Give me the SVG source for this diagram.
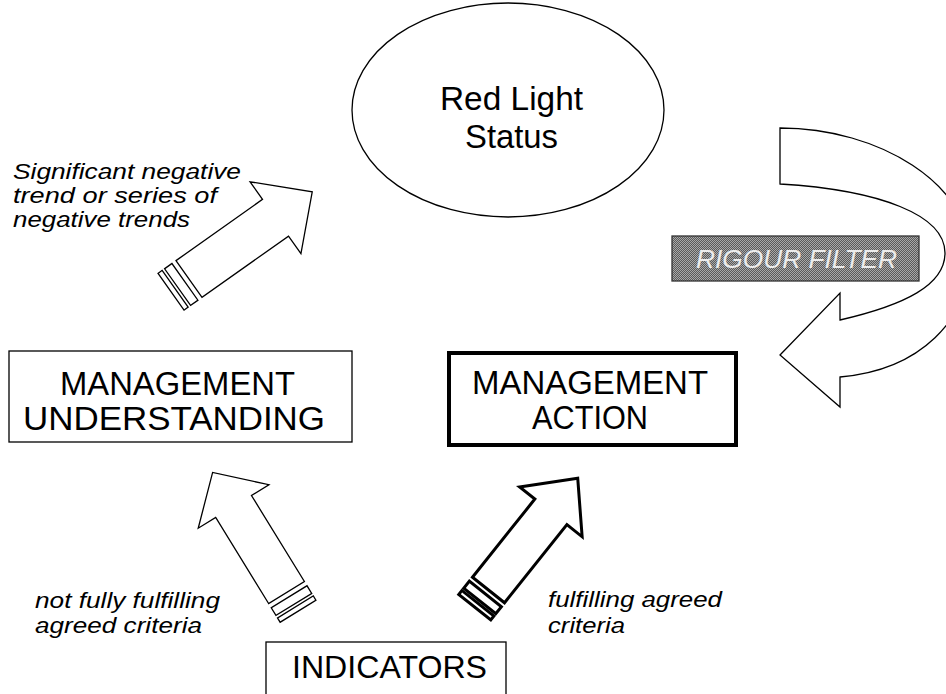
<svg xmlns="http://www.w3.org/2000/svg" width="946" height="694" viewBox="0 0 946 694">
<style>
.shape{fill:#fff;stroke:#000;stroke-width:1.3;stroke-linejoin:miter}
.bold{fill:#fff;stroke:#000;stroke-width:3;stroke-linejoin:miter}
.node{font-family:"Liberation Sans",Arial,sans-serif;fill:#000}
.lbl{font-family:"Liberation Sans",Arial,sans-serif;font-style:italic;font-size:22px;fill:#000}
</style>
<defs>
<pattern id="dots" width="2" height="2" patternUnits="userSpaceOnUse">
<rect width="2" height="2" fill="#5a5a5a"/>
<rect width="1" height="1" fill="#a8a8a8"/>
<rect x="1" y="1" width="1" height="1" fill="#a8a8a8"/>
</pattern>
</defs>
<rect width="946" height="694" fill="#fff"/>

<g id="red-light-status">
<ellipse class="shape" cx="508" cy="110" rx="156" ry="107"/>
<text class="node" font-size="33" x="440" y="110" textLength="143" lengthAdjust="spacingAndGlyphs">Red Light</text>
<text class="node" font-size="33" x="465" y="148" textLength="93" lengthAdjust="spacingAndGlyphs">Status</text>
</g>

<g id="management-understanding">
<rect class="shape" x="9" y="351" width="343" height="91"/>
<text class="node" font-size="33" x="60" y="395" textLength="235" lengthAdjust="spacingAndGlyphs">MANAGEMENT</text>
<text class="node" font-size="33" x="23" y="430" textLength="302" lengthAdjust="spacingAndGlyphs">UNDERSTANDING</text>
</g>

<g id="management-action">
<rect x="449" y="353" width="287" height="92" fill="#fff" stroke="#000" stroke-width="4"/>
<text class="node" font-size="33" x="472" y="394" textLength="236" lengthAdjust="spacingAndGlyphs">MANAGEMENT</text>
<text class="node" font-size="33" x="532" y="429" textLength="116" lengthAdjust="spacingAndGlyphs">ACTION</text>
</g>

<g id="indicators">
<rect class="shape" x="266" y="642" width="240" height="60"/>
<text class="node" font-size="32" x="292" y="678" textLength="195" lengthAdjust="spacingAndGlyphs">INDICATORS</text>
</g>

<g id="rigour-filter">
<rect x="672" y="236" width="247" height="45" fill="url(#dots)" stroke="#333" stroke-width="1.3"/>
<text x="696" y="268" font-family="Liberation Sans,Arial,sans-serif" font-style="italic" font-size="25" fill="#ececec" textLength="201" lengthAdjust="spacingAndGlyphs">RIGOUR FILTER</text>
</g>

<g id="connectors">
<path class="shape" d="M780,128 C880,128 970,185 970,255 C970,320 920,370 840,377 L840,407 L780,355 L840,293 L840,320 C905,305 945,285 945,253 C945,215 880,190 780,184 Z"/>
<g transform="translate(189,279) rotate(-35.3)">
<path class="shape" d="M0,-22.5 L106,-22.5 L106,-44 L151,0 L106,44 L106,22.5 L0,22.5 Z"/>
<rect class="shape" x="-14" y="-22.5" width="9" height="45"/>
<rect class="shape" x="-22" y="-22.5" width="5" height="45"/>
</g>
<g transform="translate(286.5,592.5) rotate(-121.6)">
<path class="shape" d="M0,-21 L101,-21 L101,-41.5 L141,0 L101,41.5 L101,21 L0,21 Z"/>
<rect class="shape" x="-14" y="-21" width="9" height="42"/>
<rect class="shape" x="-22" y="-21" width="5" height="42"/>
</g>
<g transform="translate(488.5,590) rotate(-51.4)">
<path class="bold" d="M0,-20.5 L100,-20.5 L100,-40 L143,0 L100,40 L100,20.5 L0,20.5 Z"/>
<rect class="bold" x="-14" y="-20.5" width="9" height="41"/>
<rect class="bold" x="-22" y="-20.5" width="5" height="41"/>
</g>
</g>

<g id="labels">
<text class="lbl" x="13" y="179" textLength="228" lengthAdjust="spacingAndGlyphs">Significant negative</text>
<text class="lbl" x="13" y="203" textLength="204" lengthAdjust="spacingAndGlyphs">trend or series of</text>
<text class="lbl" x="13" y="227" textLength="177" lengthAdjust="spacingAndGlyphs">negative trends</text>
<text class="lbl" x="35" y="608" textLength="185" lengthAdjust="spacingAndGlyphs">not fully fulfilling</text>
<text class="lbl" x="35" y="633" textLength="167" lengthAdjust="spacingAndGlyphs">agreed criteria</text>
<text class="lbl" x="548" y="607" textLength="174" lengthAdjust="spacingAndGlyphs">fulfilling agreed</text>
<text class="lbl" x="548" y="633" textLength="77" lengthAdjust="spacingAndGlyphs">criteria</text>
</g>
</svg>
